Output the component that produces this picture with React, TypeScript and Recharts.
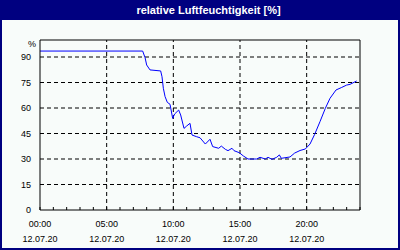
import React from 'react';
import { LineChart, Line, XAxis, YAxis, ReferenceLine } from 'recharts';

// hours since 00:00 on 12.07.20 and relative humidity in %
const hours = [
  0, 7.7, 7.88, 8.0, 8.25, 9.05, 9.15, 9.25, 9.38, 9.55,
  9.75, 9.95, 10.1, 10.4, 10.55, 10.8, 11.0, 11.25, 11.4, 11.75,
  12.0, 12.4, 12.75, 12.95, 13.4, 13.6, 13.9, 14.1, 14.4, 14.55,
  14.95, 15.25, 15.6, 16.25, 16.5, 16.9, 17.1, 17.4, 17.75, 17.95,
  18.1, 18.75, 19.1, 19.5, 19.9, 20.25, 20.6, 21.0, 21.4, 21.75,
  22.2, 22.6, 23.0, 23.25, 23.75,
];
const humidity = [
  93.5, 93.5, 89.6, 85.3, 82.4, 81.8, 78.4, 71.6, 66.7, 63.3,
  62.2, 53.9, 56.5, 58.8, 55.9, 48, 49.4, 51, 44.1, 43.1,
  42.5, 38.8, 41.6, 37.3, 36.3, 37.6, 35.7, 34.9, 36.3, 34.9,
  33.7, 31.8, 30, 30, 31, 30, 31, 29.8, 31, 32.4,
  30.4, 31.2, 33.5, 35, 35.9, 38.8, 44.5, 52, 59.8, 65.7,
  70.6, 72, 73.5, 73.9, 75.9,
];

const yTicks = [0, 15, 30, 45, 60, 75, 90];
const hourTicks = Array.from({ length: 25 }, (_, i) => i);
const majorHours = [5, 10, 15, 20];
const timeLabels: Record<number, string> = { 0: '00:00', 5: '05:00', 10: '10:00', 15: '15:00', 20: '20:00' };
const dateLabel = '12.07.20';
const title = 'relative Luftfeuchtigkeit [%]';

const data = hours.map((h, i) => ({ h, v: humidity[i] }));

const FONT = '"Liberation Sans", Arial, sans-serif';

function HourTick(props: any) {
  const { x, y, payload } = props;
  const label = timeLabels[payload.value];
  return (
    <g>
      <line x1={x} y1={y - 3} x2={x} y2={y} stroke="#000" />
      {label && (
        <>
          <text x={x} y={y + 16.5} textAnchor="middle" fontSize={9} fontFamily={FONT} fill="#000">{label}</text>
          <text x={x} y={y + 31.5} textAnchor="middle" fontSize={9} fontFamily={FONT} fill="#000">{dateLabel}</text>
        </>
      )}
    </g>
  );
}

export default function App() {
  return (
    <div style={{ position: 'relative', width: 400, height: 250, background: '#000080', fontFamily: FONT }}>
      <style>{'body{margin:0}'}</style>
      <div style={{ position: 'absolute', left: 0, top: 0, width: 400, height: 20, color: '#fff', fontWeight: 'bold', fontSize: 11, lineHeight: '20px', textAlign: 'center', paddingLeft: 17, boxSizing: 'border-box' }}>
        {title}
      </div>
      <div style={{ position: 'absolute', left: 2, top: 20, width: 396, height: 228, background: '#f8fcfa' }} />
      <div style={{ position: 'absolute', left: 0, top: 40, width: 36, textAlign: 'right', fontSize: 9, lineHeight: '9px', color: '#000' }}>%</div>
      <div style={{ position: 'absolute', left: 0, top: 0 }}>
        <LineChart width={400} height={250} data={data} margin={{ top: 40, right: 40, left: 0, bottom: 0 }}>
          <XAxis
            dataKey="h"
            type="number"
            domain={[0, 24]}
            ticks={hourTicks}
            interval={0}
            height={40}
            tickSize={0}
            tickMargin={0}
            tickLine={false}
            axisLine={{ stroke: '#000' }}
            tick={<HourTick />}
          />
          <YAxis
            type="number"
            domain={[0, 100]}
            ticks={yTicks}
            interval={0}
            width={40}
            tickLine={false}
            tickMargin={3}
            axisLine={{ stroke: '#000' }}
            tick={{ fill: '#000', fontSize: 9, fontFamily: FONT }}
          />
          {yTicks.slice(1).map((t) => (
            <ReferenceLine key={'y' + t} y={t} stroke="#000" strokeDasharray="4 3" />
          ))}
          {majorHours.map((t) => (
            <ReferenceLine key={'x' + t} x={t} stroke="#000" strokeDasharray="4 3" />
          ))}
          <ReferenceLine y={100} stroke="#000" />
          <ReferenceLine x={24} stroke="#000" />
          <Line type="linear" dataKey="v" stroke="#0000ff" strokeWidth={1} dot={false} isAnimationActive={false} />
        </LineChart>
      </div>
    </div>
  );
}
